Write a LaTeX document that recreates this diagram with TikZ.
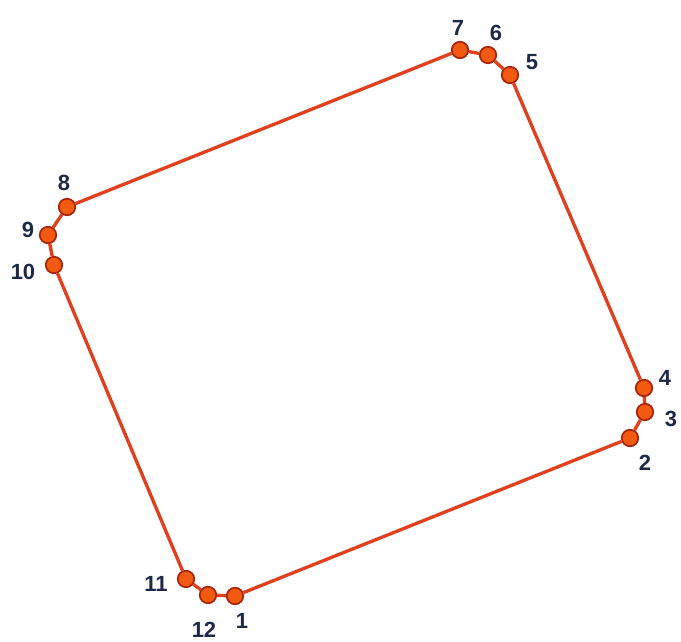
\documentclass[tikz,border=0pt]{standalone}
\usepackage{fontspec}
\setmainfont{Liberation Sans}
\usepackage{tikz}
\usetikzlibrary{positioning}
\definecolor{edgeline}{HTML}{E0401E}
\definecolor{ptfill}{HTML}{F25A12}
\definecolor{ptline}{HTML}{A8260E}
\definecolor{ink}{HTML}{1C2A48}

\begin{document}
\begin{tikzpicture}[
  x=0.02cm, y=-0.02cm,
  text=ink, font=\fontsize{12.5}{14}\selectfont\bfseries,
  pt/.style={circle, minimum size=3.3mm, inner sep=0pt, line width=1pt, draw=ptline, fill=ptfill},
  lbl/.style={inner sep=1pt},
  side/.style={line width=1.9pt, draw=edgeline},
]
\useasboundingbox (0,0) rectangle (681,642);
% ---------------- corner points ----------------
\node[pt] (p1) at (235,596) {};
\node[pt] (p2) at (630,438) {};
\node[pt] (p3) at (645,412) {};
\node[pt] (p4) at (644,388) {};
\node[pt] (p5) at (510,75) {};
\node[pt] (p6) at (488,55) {};
\node[pt] (p7) at (460,50) {};
\node[pt] (p8) at (67,207) {};
\node[pt] (p9) at (48,235) {};
\node[pt] (p10) at (54,265) {};
\node[pt] (p11) at (186,579) {};
\node[pt] (p12) at (208,595) {};
% ---------------- outline ----------------
\draw[side] (p1) -- (p2);
\draw[side] (p2) -- (p3);
\draw[side] (p3) -- (p4);
\draw[side] (p4) -- (p5);
\draw[side] (p5) -- (p6);
\draw[side] (p6) -- (p7);
\draw[side] (p7) -- (p8);
\draw[side] (p8) -- (p9);
\draw[side] (p9) -- (p10);
\draw[side] (p10) -- (p11);
\draw[side] (p11) -- (p12);
\draw[side] (p12) -- (p1);
% ---------------- numbers ----------------
\node[lbl] (l1) at (242,621) {1};
\node[lbl] (l2) at (645,463) {2};
\node[lbl] (l3) at (671,419) {3};
\node[lbl] (l4) at (665,378) {4};
\node[lbl] (l5) at (532,62) {5};
\node[lbl] (l6) at (496,33) {6};
\node[lbl] (l7) at (458,28) {7};
\node[lbl] (l8) at (64,183) {8};
\node[lbl] (l9) at (28,230) {9};
\node[lbl] (l10) at (23,272) {10};
\node[lbl] (l11) at (156,584) {11};
\node[lbl] (l12) at (204,630) {12};
\end{tikzpicture}
\end{document}
